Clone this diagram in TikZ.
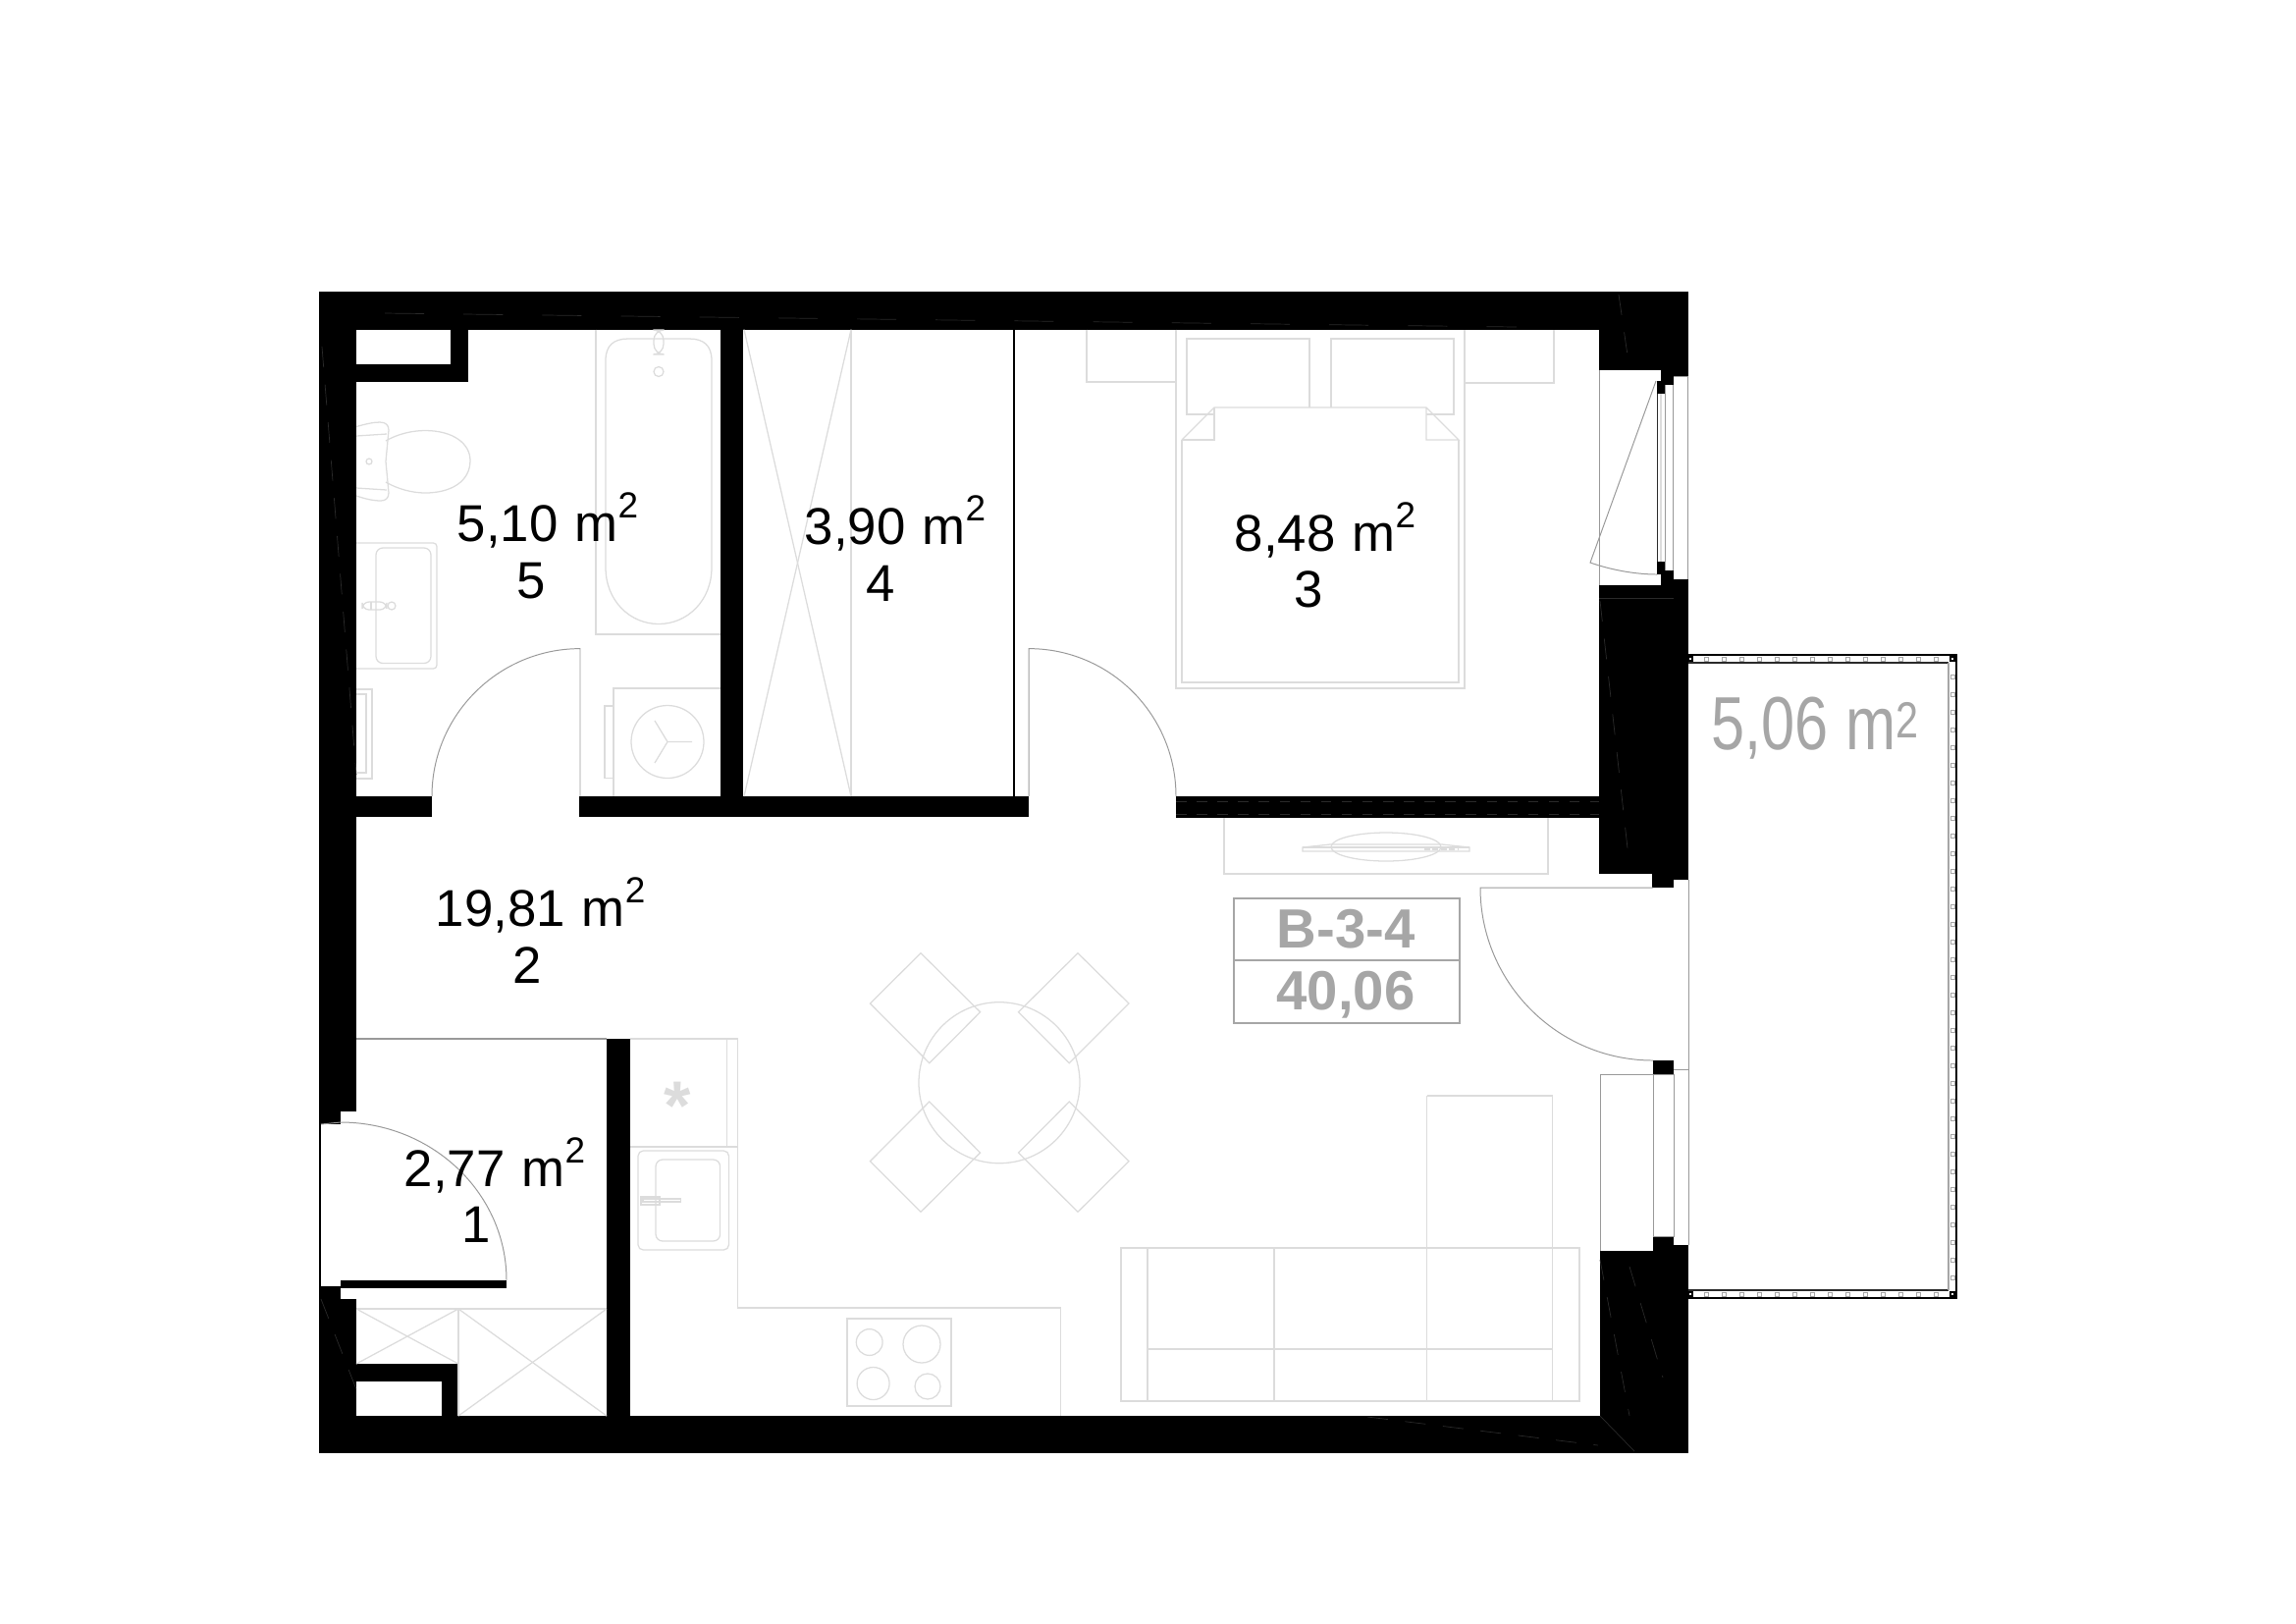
\documentclass[tikz,border=0pt]{standalone}
\usepackage{fontspec}
\setmainfont{Liberation Sans}
\newfontfamily\narrowfont[FakeStretch=0.8]{Liberation Sans}
\definecolor{furngrey}{HTML}{DCDCDC}
\definecolor{doorgrey}{HTML}{999999}
\definecolor{labelgrey}{HTML}{A6A6A6}
\definecolor{hairgrey}{HTML}{2A2A2A}
\newcommand{\sqm}{\hspace{4.9pt}m\raisebox{6.8pt}{\fontsize{10.5}{10.5}\selectfont 2}}
\tikzset{
    wallfill/.style={fill=black},
    furn/.style={draw=furngrey,line width=0.36pt},
    doorline/.style={draw=doorgrey,line width=0.28pt},
    hair/.style={draw=hairgrey,line width=0.2pt,dash pattern=on 6pt off 5pt},
    areatext/.style={anchor=base west,inner sep=0pt,font=\fontsize{15}{15}\selectfont},
    numtext/.style={anchor=base,inner sep=0pt,font=\fontsize{15}{15}\selectfont},
    unittext/.style={anchor=base,inner sep=0pt,text=labelgrey,font=\fontsize{16}{16}\selectfont\bfseries},
    railpost/.style={draw=labelgrey,fill=white,line width=0.25pt},
}
\begin{document}
\begin{tikzpicture}[x=0.01cm,y=-0.01cm]
    \useasboundingbox (0,0) rectangle (2339,1653);
    %% walls
    \fill[wallfill] (325,297) rectangle (1720,335.6);
    \fill[wallfill] (325,297) rectangle (363,1132);
    \fill[wallfill] (325,1132) rectangle (347,1145);
    \fill[wallfill] (325,1145) rectangle (327,1310);
    \fill[wallfill] (325,1310) rectangle (347,1323);
    \fill[wallfill] (325,1323) rectangle (363,1480);
    \fill[wallfill] (325,1442) rectangle (1720,1480);
    \fill[wallfill] (1629,297) rectangle (1720,890);
    \fill[wallfill] (1683,890) rectangle (1705,904);
    \fill[wallfill] (1705,890) rectangle (1720,896);
    \fill[wallfill] (1630,1274) rectangle (1720,1480);
    \fill[wallfill] (1705,1268) rectangle (1720,1274);
    \fill[wallfill] (1684,1259) rectangle (1705,1274);
    \fill[wallfill] (1684,1080) rectangle (1705,1094);
    %% partitions
    \fill[wallfill] (363,811) rectangle (440,832);
    \fill[wallfill] (590,811) rectangle (1048,832);
    \fill[wallfill] (1198,811) rectangle (1629,833);
    \fill[wallfill] (734,335) rectangle (757,811);
    \fill[wallfill] (618,1058) rectangle (642,1442);
    \draw[black,line width=0.4pt] (1033,335) -- (1033,811);
    \draw[draw=doorgrey,line width=0.4pt] (363,1058) -- (618,1058);
    %% shafts
    \fill[wallfill] (459,335) rectangle (477,389);
    \fill[wallfill] (363,371) rectangle (477,389);
    \fill[wallfill] (363,1389) rectangle (468,1407);
    \fill[wallfill] (450,1389) rectangle (468,1442);
    %% faint lines inside the walls
    \draw[hair,dash pattern=on 11.4pt off 11.4pt] (392,319) -- (1545,333);
    \draw[hair] (328,353) -- (363,789);
    \draw[hair] (1630,612) -- (1659,873);
    \draw[hair] (1649,300) -- (1658,362);
    \draw[hair] (1630,1283) -- (1660,1442);
    \draw[hair] (1660,1290) -- (1694,1403);
    \draw[hair] (1393,1443) -- (1628,1472);
    \draw[hair] (327,1323) -- (363,1415);
    \draw[hair,dash pattern=on 3pt off 3pt] (1198,816) -- (1629,816);
    \draw[hair,dash pattern=on 3pt off 3pt] (1198,829) -- (1629,829);
    \draw[draw=hairgrey,line width=0.2pt] (1629,609) -- (1705,609);
    \draw[draw=hairgrey,line width=0.2pt] (1630,1442) -- (1665,1478);
    %% bedroom window
    \fill[white] (1629,377) rectangle (1692,596);
    \fill[white] (1692,401) rectangle (1696,572);
    \fill[white] (1696,392) rectangle (1704.5,581);
    \fill[white] (1705,383) rectangle (1719,590);
    \fill[wallfill] (1688,388) rectangle (1696,401);
    \fill[wallfill] (1688,572) rectangle (1696,585);
    \draw[doorline] (1629,377) -- (1629,596);
    \draw[doorline,draw=hairgrey] (1688,401) -- (1688,572);
    \draw[furn] (1692,401) -- (1692,572);
    \draw[doorline] (1696.3,392) -- (1696.3,581);
    \draw[doorline] (1704.5,392) -- (1704.5,581);
    \draw[doorline] (1705,383) -- (1719,383);
    \draw[doorline] (1719,383) -- (1719,590);
    \draw[doorline] (1687,388) -- (1620,573) .. controls (1640,580) and (1665,585) .. (1688,585);
    %% living room window
    \fill[white] (1630,1094) rectangle (1684,1274);
    \draw[doorline] (1630,1274) -- (1630,1094) -- (1684,1094);
    \draw[doorline] (1684,1094) rectangle (1705,1259);
    \draw[doorline] (1705,1089) -- (1720,1089);
    %% doors
    \draw[doorline] (327,1145) -- (347,1143) .. controls (440,1143) and (516,1215) .. (516,1304);
    \fill[wallfill] (347,1304) rectangle (516,1312);
    \draw[doorline] (591,811) -- (591,660.6) .. controls (508,660.6) and (440,728) .. (440,811);
    \draw[doorline] (1048,811) -- (1048,660.6) .. controls (1131,660.6) and (1198,728) .. (1198,811);
    \draw[doorline] (1684,904) -- (1508,904) .. controls (1508,1001) and (1587,1080) .. (1684,1080);
    \draw[doorline] (1720,896) -- (1720,1268);
    %% balcony
    \draw[black,line width=0.8pt] (1720,667) -- (1993,667) -- (1993,1322) -- (1720,1322);
    \draw[draw=hairgrey,line width=0.4pt] (1720,675) -- (1985,675);
    \draw[draw=hairgrey,line width=0.4pt] (1720,1314) -- (1985,1314);
    \draw[draw=labelgrey,line width=0.7pt] (1985,675) -- (1985,1314);
    \foreach \px in {0,...,13} {
        \draw[railpost] ({1736+18*\px},669) rectangle +(4,4);
        \draw[railpost] ({1736+18*\px},1316) rectangle +(4,4);
    }
    \foreach \py in {0,...,34} {
        \draw[railpost] (1987,{687+18*\py}) rectangle +(4,4);
    }
    \foreach \cx/\cy in {1720/669,1987/669,1720/1316,1987/1316} {
        \draw[black,fill=white,line width=0.4pt] (\cx,\cy) rectangle +(4,4);
    }
    %% bathroom
    \draw[furn] (607,335.6) -- (607,646) -- (734,646);
    \draw[furn] (617,578) -- (617,367) .. controls (617,352) and (625,345) .. (640,345) -- (702,345) .. controls (717,345) and (725,352) .. (725,367) -- (725,578) .. controls (725,612) and (700,635.5) .. (671,635.5) .. controls (642,635.5) and (617,612) .. (617,578);
    \draw[furn,rounded corners=3pt] (666,336) rectangle (676,361);
    \draw[furn] (671,378.5) circle (5);
    %% toilet
    \draw[furn] (363,434.5) .. controls (372,432) and (380,430) .. (387,430) .. controls (393,430) and (396,433) .. (396,438) -- (393,470) -- (396,502) .. controls (396,507) and (393,510) .. (388,510) .. controls (380,510) and (372,508) .. (363,505);
    \draw[furn] (363,444) -- (394,442);
    \draw[furn] (363,497) -- (394,499);
    \draw[furn] (393,449) .. controls (405,442) and (420,438.5) .. (433,438.5) .. controls (462,438.5) and (479,452) .. (479,469) .. controls (479,490) and (460,502) .. (433,502) .. controls (420,502) and (405,498) .. (393,491);
    \draw[furn] (376,470) circle (3);
    %% washbasin
    \draw[furn,rounded corners=1pt] (363,553) -- (445,553) -- (445,681) -- (363,681);
    \draw[furn,rounded corners=2pt] (383,558) rectangle (439,675.5);
    \draw[furn,rounded corners=2pt] (369,613) rectangle (394,621);
    \draw[furn] (378,613) -- (378,621);
    \draw[furn] (399,617) circle (4);
    \draw[furn] (363,702) -- (379,702) -- (379,793) -- (363,793);
    \draw[furn] (363,707) -- (373,707) -- (373,787) -- (363,787);
    %% washing machine
    \draw[furn] (734,701) -- (625,701) -- (625,811);
    \draw[furn] (625,719) -- (616,719) -- (616,792.5) -- (625,792.5);
    \draw[furn] (680,755.5) circle (37);
    \draw[furn] (705,755.5) -- (680,755.5) -- (667,734);
    \draw[furn] (680,755.5) -- (667,777);
    %% wardrobe
    \draw[furn] (867,335.6) -- (867,811);
    \draw[furn] (758,335.6) -- (867,811);
    \draw[furn] (867,335.6) -- (758,811);
    %% bedroom
    \draw[furn] (1107,335.6) -- (1107,389) -- (1198,389);
    \draw[furn] (1492,390) -- (1583,390) -- (1583,335.6);
    \draw[furn] (1198,335.6) -- (1198,701) -- (1492,701) -- (1492,335.6);
    \draw[furn] (1334,415) -- (1334,345) -- (1209,345) -- (1209,422) -- (1237,422);
    \draw[furn] (1356,415) -- (1356,345) -- (1481,345) -- (1481,422) -- (1453,422);
    \draw[furn] (1204,448) -- (1204,695) -- (1486,695) -- (1486,448);
    \draw[furn] (1204,448) -- (1237,415) -- (1453,415) -- (1486,448) -- (1453,448) -- (1453,415);
    \draw[furn] (1204,448) -- (1237,448) -- (1237,415);
    %% hall wardrobe
    \draw[furn] (1247,833) -- (1247,890) -- (1577,890) -- (1577,833);
    \draw[furn] (1412,862.5) ellipse (56 and 14.5);
    \draw[furn] (1327,863) -- (1355,860) -- (1469,860) -- (1497,863) -- (1497,867) -- (1327,867) -- cycle;
    \draw[furn] (1327,863) -- (1497,863);
    \draw[furn,line width=0.8pt,dash pattern=on 1.7pt off 0.7pt] (1451,865) -- (1485,865);
    %% unit box
    \draw[draw=labelgrey,line width=0.5pt] (1257,915) rectangle (1487,1042);
    \draw[draw=labelgrey,line width=0.5pt] (1257,978) -- (1487,978);
    \node[unittext] (unitcode) at (1371,965) {B-3-4};
    \node[unittext] (unitarea) at (1371,1028) {40,06};
    %% kitchen
    \draw[furn] (642,1058) -- (751.4,1058) -- (751.4,1332) -- (1080.7,1332) -- (1080.7,1442);
    \draw[furn] (740.4,1058) -- (740.4,1168);
    \draw[furn] (642,1168) -- (751.4,1168);
    \node[inner sep=0pt,text=furngrey,font=\fontsize{20}{20}\selectfont\bfseries] (fridgemark) at (690,1126) {*};
    \draw[furn,rounded corners=1.5pt] (650,1172) rectangle (742.5,1273);
    \draw[furn,rounded corners=2pt] (668,1181) rectangle (733.6,1264);
    \draw[furn] (653,1219) rectangle (672,1227);
    \draw[furn] (655,1221) rectangle (693.6,1224);
    \draw[furn] (863,1343) rectangle (969,1432);
    \draw[furn] (885.7,1367) circle (13.4);
    \draw[furn] (939,1369) circle (19);
    \draw[furn] (889.6,1409) circle (16.5);
    \draw[furn] (945,1412) circle (13);
    %% dining table
    \draw[furn] (1018,1102.7) circle (82);
    \draw[furn] (938,970.7) -- (998.6,1030.7) -- (946.8,1082.7) -- (886.4,1022) -- cycle;
    \draw[furn] (1098,970.7) -- (1150,1022) -- (1089.3,1082.7) -- (1037.5,1030.7) -- cycle;
    \draw[furn] (946.8,1122) -- (998.6,1174) -- (938,1234.3) -- (886.4,1182.7) -- cycle;
    \draw[furn] (1089.3,1122) -- (1150,1182.7) -- (1098,1234.3) -- (1037.5,1174) -- cycle;
    %% sofa
    \draw[furn] (1142,1271) rectangle (1609,1427);
    \draw[furn] (1169,1271) -- (1169,1427);
    \draw[furn] (1298,1271) -- (1298,1427);
    \draw[furn] (1453.5,1116) -- (1453.5,1427);
    \draw[furn] (1581.5,1116) -- (1581.5,1427);
    \draw[furn] (1453.5,1116) -- (1581.5,1116);
    \draw[furn] (1169,1374) -- (1581.5,1374);
    %% hall closet
    \draw[furn] (363,1333) -- (618,1333);
    \draw[furn] (467,1333) -- (467,1442);
    \draw[furn] (363,1333) -- (467,1389);
    \draw[furn] (467,1333) -- (363,1389);
    \draw[furn] (467,1333) -- (618,1442);
    \draw[furn] (618,1333) -- (467,1442);
    %% room labels
    \node[areatext] (area5) at (465,551) {5,10\sqm};
    \node[numtext] (num5) at (541,609) {5};
    \node[areatext] (area4) at (819,554.5) {3,90\sqm};
    \node[numtext] (num4) at (897,612) {4};
    \node[areatext] (area3) at (1257,561) {8,48\sqm};
    \node[numtext] (num3) at (1333,618) {3};
    \node[areatext] (area2) at (443,943) {19,81\sqm};
    \node[numtext] (num2) at (537,1001) {2};
    \node[areatext] (area1) at (411,1208) {2,77\sqm};
    \node[numtext] (num1) at (485,1265) {1};
    \node[anchor=base west,inner sep=0pt,text=labelgrey,font=\narrowfont\fontsize{21.8}{21.8}\selectfont] (areabalcony) at (1743,763) {5,06 m\raisebox{3.4pt}{\fontsize{14.7}{14.7}\selectfont 2}};
\end{tikzpicture}
\end{document}
